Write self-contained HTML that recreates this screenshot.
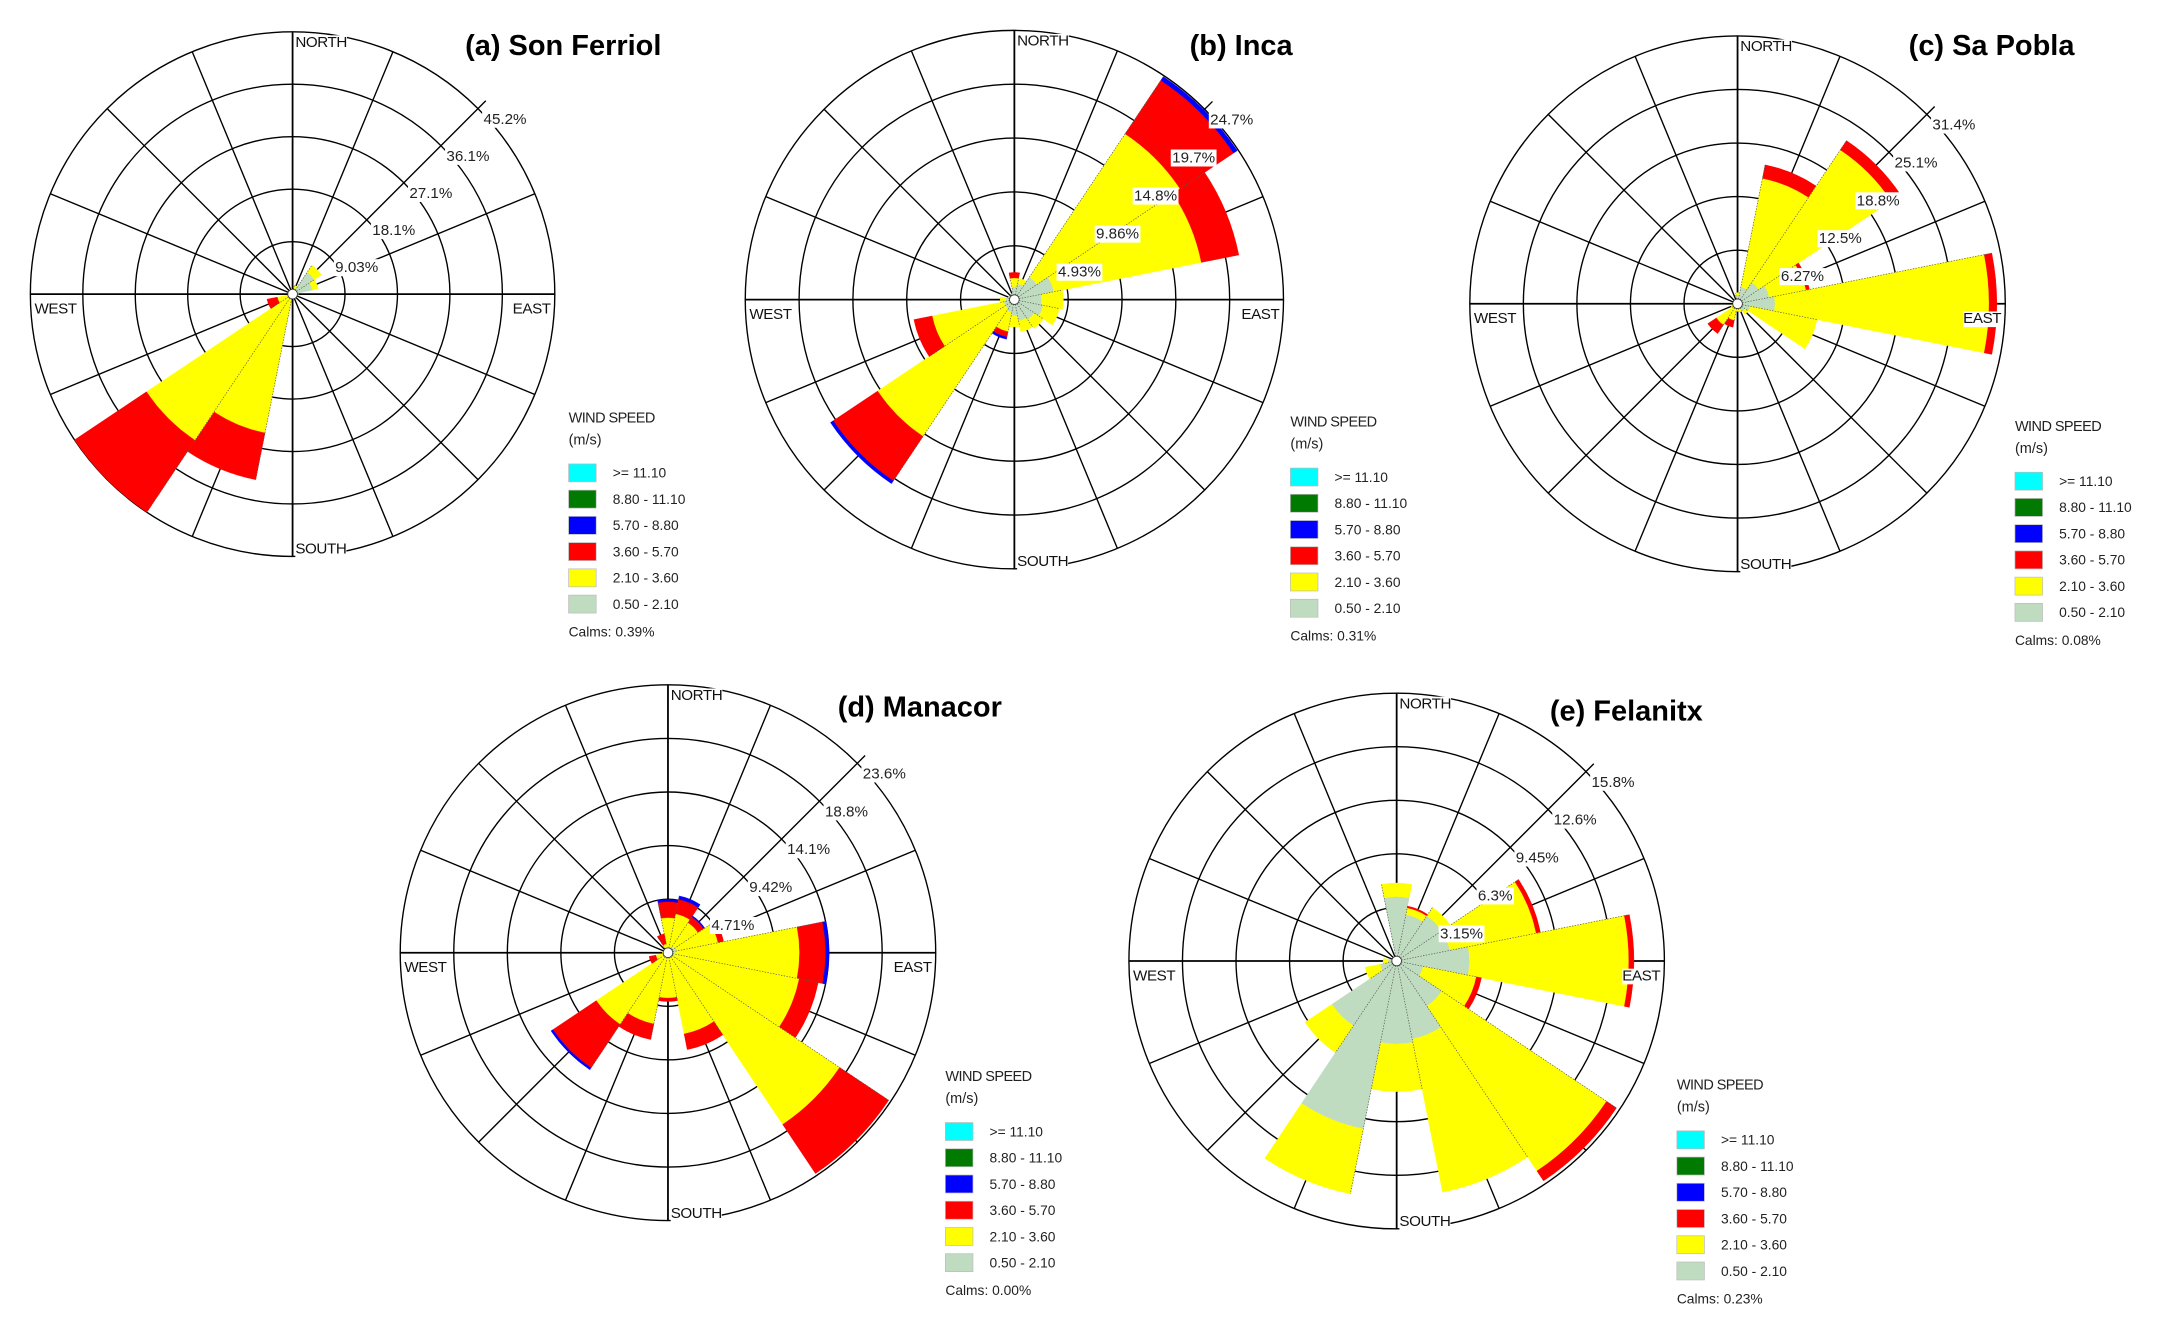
<!DOCTYPE html>
<html><head><meta charset="utf-8">
<style>
html,body{margin:0;padding:0;background:#fff;}
svg{display:block;font-family:"Liberation Sans",Arial,sans-serif;}
</style></head>
<body>
<svg id="fig" width="2164" height="1320" viewBox="0 0 1568 956" preserveAspectRatio="none" xmlns="http://www.w3.org/2000/svg">
<rect x="0" y="0" width="1568" height="956" fill="#fff"/>
</svg>
<script>
// Direction categories (16 compass points, clockwise from North)
const directions = ["N","NNE","NE","ENE","E","ESE","SE","SSE","S","SSW","SW","WSW","W","WNW","NW","NNW"];
const speedBins = [">= 11.10","8.80 - 11.10","5.70 - 8.80","3.60 - 5.70","2.10 - 3.60","0.50 - 2.10"];
const stationNames = ["(a) Son Ferriol","(b) Inca","(c) Sa Pobla","(d) Manacor","(e) Felanitx"];
const ringLabels = [
  ["9.03%","18.1%","27.1%","36.1%","45.2%"],
  ["4.93%","9.86%","14.8%","19.7%","24.7%"],
  ["6.27%","12.5%","18.8%","25.1%","31.4%"],
  ["4.71%","9.42%","14.1%","18.8%","23.6%"],
  ["3.15%","6.3%","9.45%","12.6%","15.8%"]
];
const ringMax = [45.2, 24.7, 31.4, 23.6, 15.8];
const calms = ["Calms: 0.39%","Calms: 0.31%","Calms: 0.08%","Calms: 0.00%","Calms: 0.23%"];

// Frequency (%) per speed class per direction
const a_g = [0.5,1,4.5,3.5,1,0.5,0.5,0.5,0.5,1,1,1,0.5,0.3,0.3,0.3];
const a_y = [0,0.5,1.5,1,0,0,0,0,0,23.4,29.3,1.7,0,0,0,0];
const a_r = [0,0,0,0,0,0,0,0,0,8.2,14.9,1.8,0,0,0,0];
const a_b = [0,0,0,0,0,0,0,0,0,0,0,0,0,0,0,0];

const b_g = [1.2,1.5,2.5,3.7,2.5,2.7,2.2,2,1.5,1.2,1,1,0.8,0.6,0.5,0.6];
const b_y = [0.8,0.5,15.8,13.8,2,1.5,1,1,1,1.8,14.1,6.7,0.5,0,0,0];
const b_r = [0.5,0,5.9,3.5,0,0,0,0,0,0.5,4.9,1.7,0,0,0,0];
const b_b = [0,0,0.4,0,0,0,0,0,0,0.2,0.3,0,0,0,0,0];

const c_g = [1,2,3,3.8,4.4,1.5,1,0.7,0.6,0.6,0.8,0.5,0.4,0.4,0.4,0.4];
const c_y = [0.3,13,18.7,4.4,25.1,8,0.5,0.3,0.3,1.4,2.2,0.3,0,0,0,0];
const c_r = [0,1.6,1.3,0.4,0.9,0,0,0,0,0.8,1.2,0,0,0,0,0];
const c_b = [0,0,0,0,0,0,0,0,0,0,0,0,0,0,0,0];

const d_g = [0.5,0.5,0.6,0.8,0.6,0.6,0.5,0.5,0.5,0.5,0.5,0.3,0.2,0.3,0.3,0.3];
const d_y = [2.6,3,2.6,3.7,11,11.2,17.7,6.8,3.5,5.9,7.1,0.8,0.3,0,0,0.5];
const d_r = [1.4,1.3,0.6,0.5,2.3,1.7,5.2,1.4,0.3,1.4,4.6,0.6,0,0,0,0.9];
const d_b = [0.2,0.3,0.1,0,0.3,0,0,0,0,0,0.2,0,0,0,0,0];

const e_g = [3.8,2.8,3.2,3.2,4.3,1.6,3.2,4.7,4.9,10.1,4.6,1,0.5,0.3,0.3,0.3];
const e_y = [0.8,0.4,0.6,5.2,9.4,3.2,11.7,9.2,2.8,3.9,1.9,0.9,0.3,0,0,0];
const e_r = [0,0.1,0,0.25,0.3,0.3,0.7,0,0,0,0,0,0,0,0,0];
const e_b = [0,0,0,0,0,0,0,0,0,0,0,0,0,0,0,0];

const seriesG = [a_g,b_g,c_g,d_g,e_g];
const seriesY = [a_y,b_y,c_y,d_y,e_y];
const seriesR = [a_r,b_r,c_r,d_r,e_r];
const seriesB = [a_b,b_b,c_b,d_b,e_b];

// layout
const layouts = [
  {cx:212,cy:213,R:190,tx:337,ty:40,lx:412,ly:302},
  {cx:735,cy:217,R:195,tx:862,ty:40,lx:935,ly:305},
  {cx:1259,cy:220,R:194,tx:1383,ty:40,lx:1460,ly:308},
  {cx:484,cy:690,R:194,tx:607,ty:519,lx:685,ly:779},
  {cx:1012,cy:696,R:194,tx:1123,ty:522,lx:1215,ly:785}
];
const colors = {cyan:"#00ffff",green:"#007a00",blue:"#0000ff",red:"#ff0000",yellow:"#ffff00",calm:"#c0dcc0"};
const legendColors = [colors.cyan,colors.green,colors.blue,colors.red,colors.yellow,colors.calm];

const NS = "http://www.w3.org/2000/svg";
const svg = document.getElementById("fig");
function mk(tag, attrs, parent){
  const e = document.createElementNS(NS, tag);
  for (const k in attrs) e.setAttribute(k, attrs[k]);
  (parent||svg).appendChild(e);
  return e;
}
function pt(cx,cy,r,deg){const a=deg*Math.PI/180;return [cx+r*Math.sin(a), cy-r*Math.cos(a)];}
function wedge(cx,cy,r0,r1,d0,d1){
  const p1=pt(cx,cy,r0,d0),p2=pt(cx,cy,r1,d0),p3=pt(cx,cy,r1,d1),p4=pt(cx,cy,r0,d1);
  return `M${p1[0]},${p1[1]} L${p2[0]},${p2[1]} A${r1},${r1} 0 0 1 ${p3[0]},${p3[1]} L${p4[0]},${p4[1]} A${r0},${r0} 0 0 0 ${p1[0]},${p1[1]} Z`;
}

layouts.forEach((L, s) => {
  const g = mk("g", {});
  
  
  const rScale = v => v / ringMax[s] * L.R;
  const hole = 3.5;
  for (let k=1;k<=5;k++){
    const c = mk("circle",{cx:L.cx,cy:L.cy,r:L.R*k/5,fill:"none",stroke:"#000","stroke-width":1},g);
    
    
  }
  for (let i=0;i<16;i++){
    const deg=i*22.5;
    const ext = (deg===45)? L.R+8 : L.R;
    const p=pt(L.cx,L.cy,ext,deg);
    const ln = mk("line",{x1:L.cx,y1:L.cy,x2:p[0],y2:p[1],stroke:"#000","stroke-width":(i%4===0)?1.3:1},g);
    
    
  }
  const segs=[[seriesG[s],colors.calm],[seriesY[s],colors.yellow],[seriesR[s],colors.red],[seriesB[s],colors.blue]];
  for (let i=0;i<directions.length;i++){
    const d0=i*22.5-11.25, d1=i*22.5+11.25;
    let cum=0;
    segs.forEach(([arr,col])=>{
      const v=arr[i]; if(!v) return;
      const r0=Math.max(hole,rScale(cum)), r1=Math.max(hole,rScale(cum+v));
      cum+=v;
      if (r1<=r0) return;
      const p = mk("path",{d:wedge(L.cx,L.cy,r0,r1,d0,d1),fill:col,stroke:col,"stroke-width":0.3},g);
      
      
    });
    if (cum>0){
      const q0=pt(L.cx,L.cy,hole,d0), q1=pt(L.cx,L.cy,rScale(cum),d0);
      const sep = mk("line",{x1:q0[0],y1:q0[1],x2:q1[0],y2:q1[1],stroke:"#555","stroke-width":0.5,"stroke-dasharray":"1,1"},g);
      
      
    }
  }
  const hc = mk("circle",{cx:L.cx,cy:L.cy,r:hole,fill:"#fff",stroke:"#333","stroke-width":0.6},g);
  
  
  for (let k=1;k<=5;k++){
    const p=pt(L.cx,L.cy,L.R*k/5,45);
    const t = mk("text",{x:p[0]+4,y:p[1]+11,"font-size":11,fill:"#222"},g);
    t.textContent = ringLabels[s][k-1];
    
    
    const bb=t.getBBox();
    const bg = mk("rect",{x:bb.x-1,y:bb.y,width:bb.width+2,height:bb.height,fill:"#fff"},g);
    
    
    g.insertBefore(bg,t);
  }
  const dl=[["NORTH",L.cx+2,L.cy-L.R+11,"start"],["SOUTH",L.cx+2,L.cy+L.R-2,"start"],["WEST",L.cx-L.R+3,L.cy+14,"start"],["EAST",L.cx+L.R-3,L.cy+14,"end"]];
  dl.forEach(([txt,x,y,anc])=>{
    const t = mk("text",{x:x,y:y,"font-size":11,"text-anchor":anc,fill:"#111","letter-spacing":"-0.3"},g);
    t.textContent = txt;
    
    
    const bb=t.getBBox();
    const bg = mk("rect",{x:bb.x,y:bb.y+1,width:bb.width,height:bb.height-1,fill:"#fff"},g);
    
    
    g.insertBefore(bg,t);
  });
  const ti = mk("text",{x:L.tx,y:L.ty,"font-size":21,"font-weight":"bold",fill:"#000"},g);
  ti.textContent = stationNames[s];
  
  
  const lg = mk("g",{},g);
  
  
  const h1 = mk("text",{x:L.lx,y:L.ly+4,"font-size":10.5,fill:"#222","letter-spacing":"-0.4"},lg);
  h1.textContent="WIND SPEED";
  
  
  const h2 = mk("text",{x:L.lx,y:L.ly+20,"font-size":10.5,fill:"#222"},lg);
  h2.textContent="(m/s)";
  
  
  speedBins.forEach((lab,j)=>{
    const y=L.ly+34+j*19;
    const r = mk("rect",{x:L.lx,y:y,width:20,height:13,fill:legendColors[j],stroke:"#bbb","stroke-width":0.5},lg);
    
    
    const t = mk("text",{x:L.lx+32,y:y+10,"font-size":10,fill:"#222"},lg);
    t.textContent=lab;
    
    
  });
  const ct = mk("text",{x:L.lx,y:L.ly+159,"font-size":10,fill:"#222"},lg);
  ct.textContent=calms[s];
  
  
});
</script>
</body></html>
